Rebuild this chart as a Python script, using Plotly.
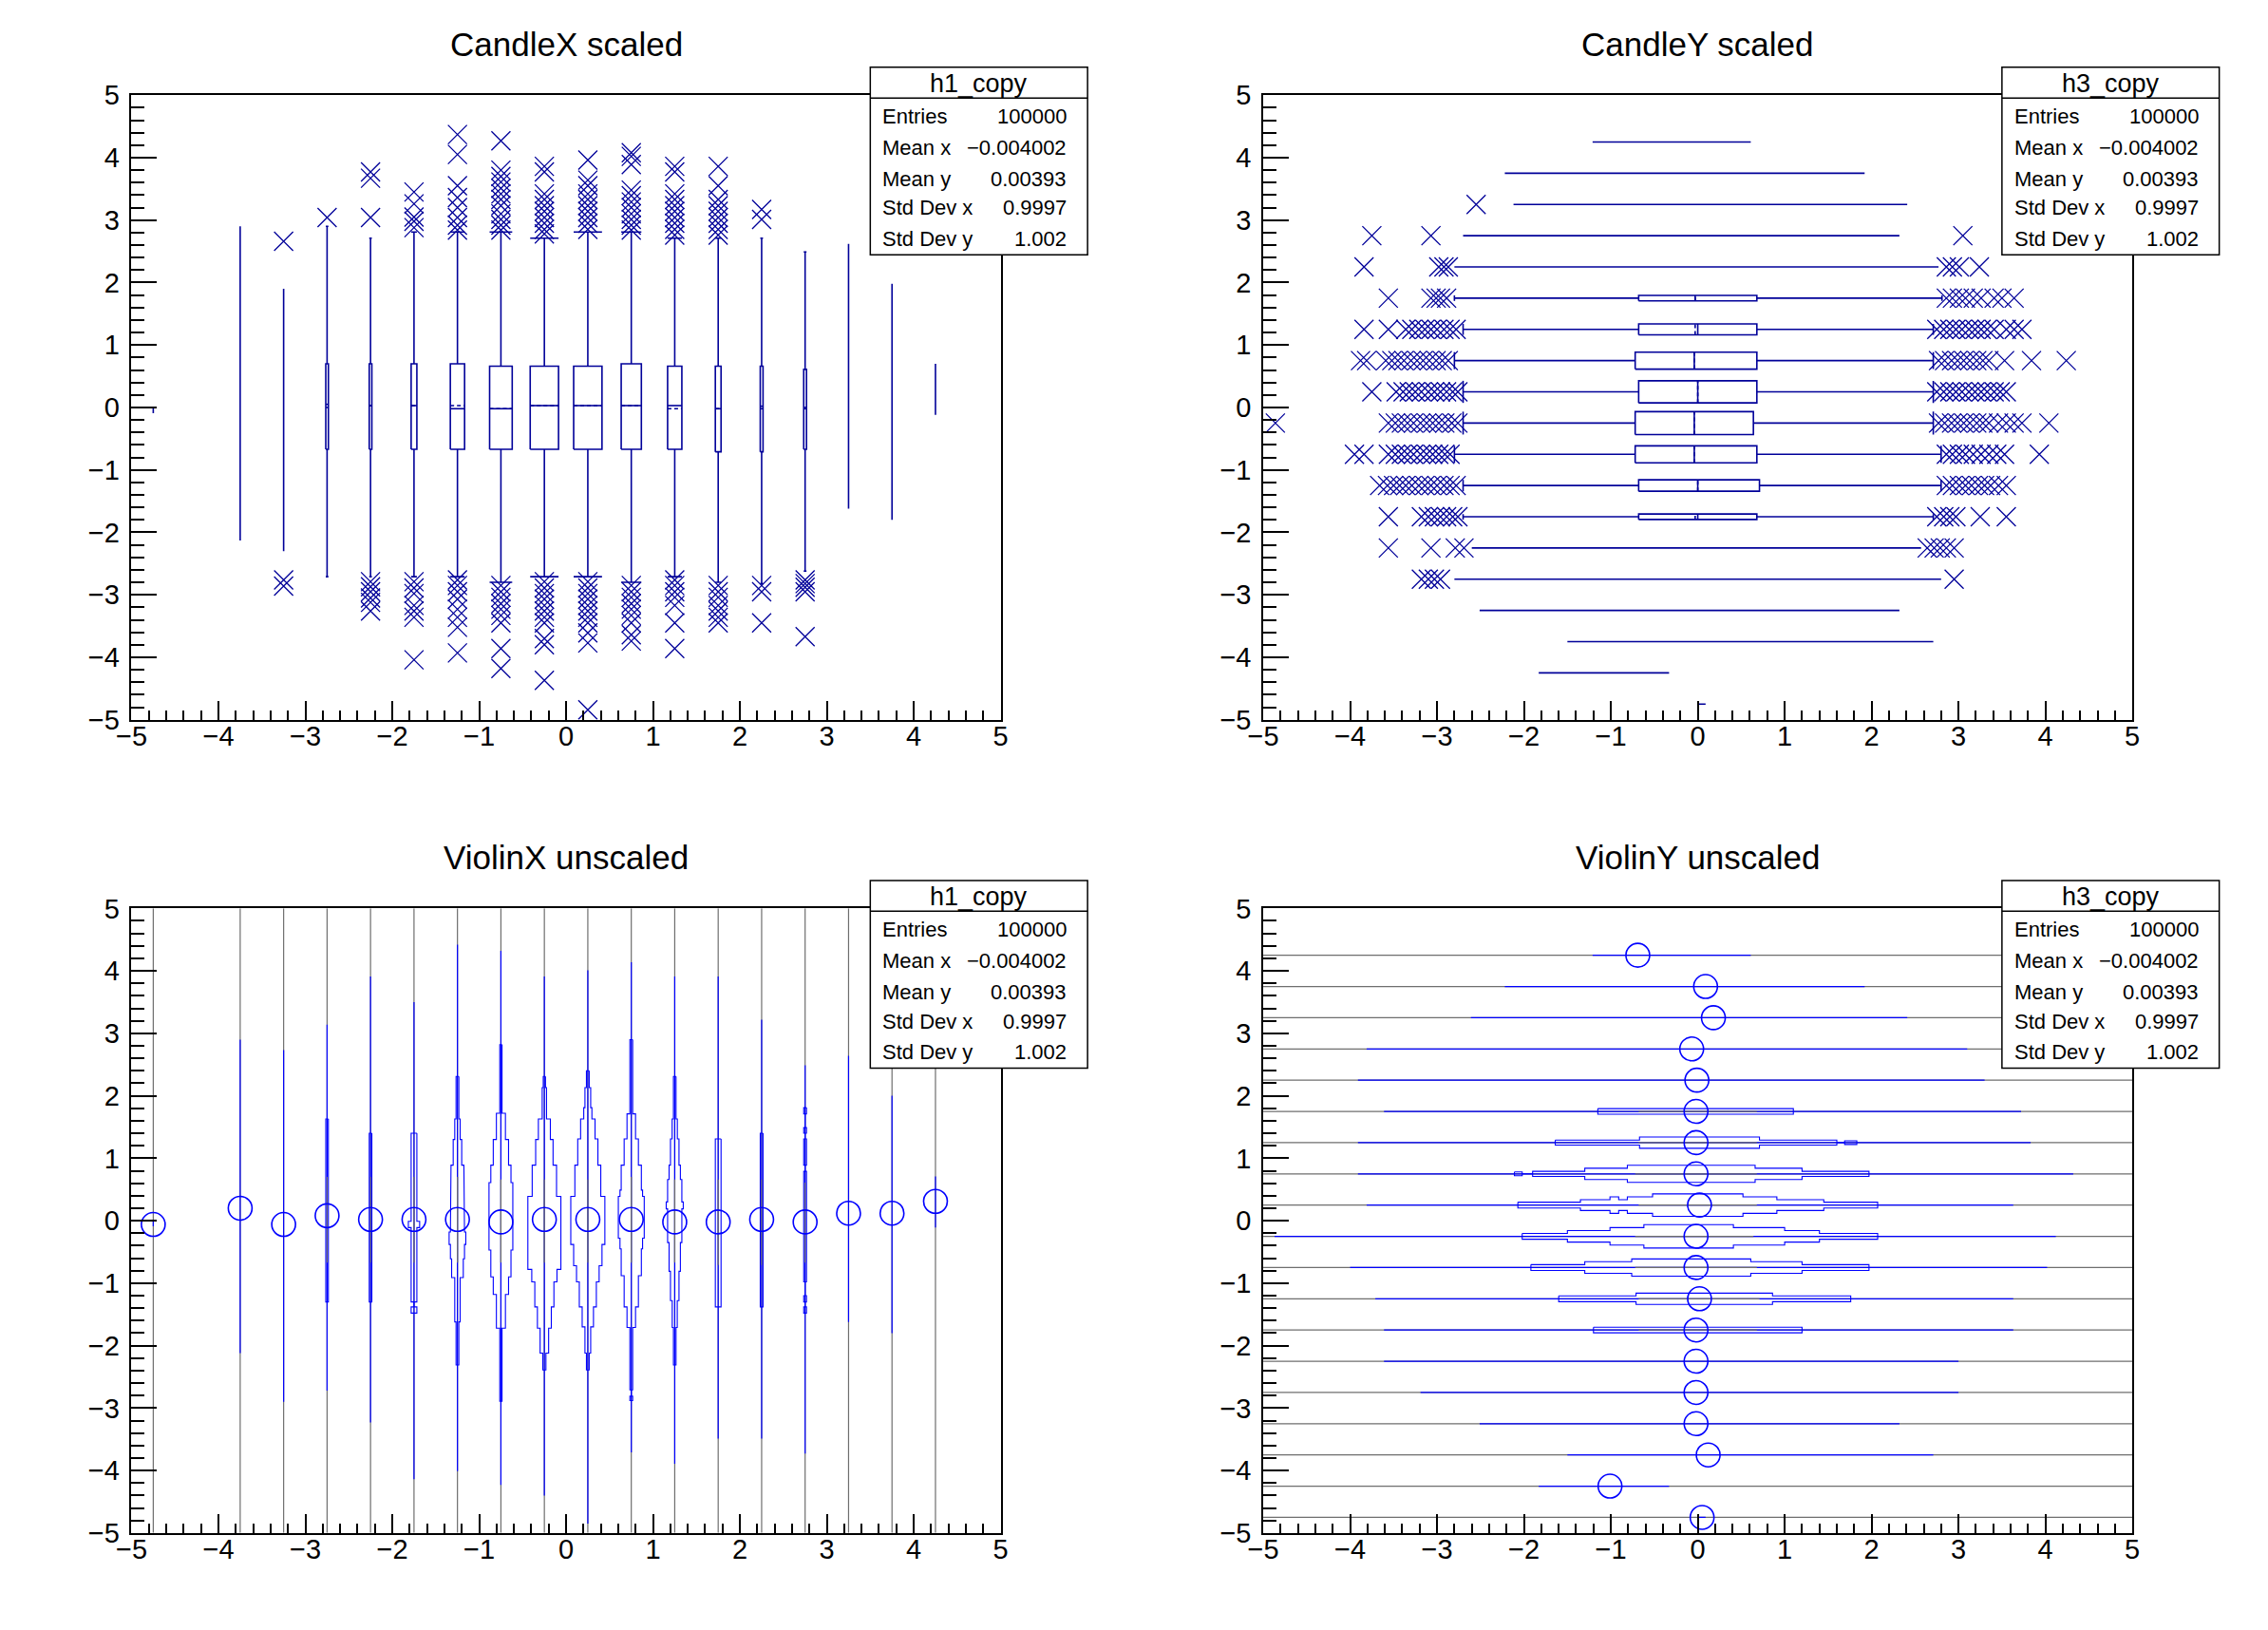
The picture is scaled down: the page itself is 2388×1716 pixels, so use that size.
import plotly.graph_objects as go

# ===================== DATA =====================
# ---- Panel 1: CandleX scaled (h1: x-slices, values along y) ----
cx_bins = [-4.75, -3.75, -3.25, -2.75, -2.25, -1.75, -1.25, -0.75, -0.25,
           0.25, 0.75, 1.25, 1.75, 2.25, 2.75, 3.25, 3.75, 4.25]
cx_box_hw = [0, 0, 0, 0.015, 0.015, 0.033, 0.082, 0.130, 0.163,
             0.163, 0.116, 0.082, 0.033, 0.016, 0.016, 0, 0, 0]
cx_q1 = [None, None, None, -0.67, -0.67, -0.67, -0.67, -0.67, -0.67,
         -0.67, -0.67, -0.67, -0.71, -0.71, -0.67, None, None, None]
cx_q3 = [None, None, None, 0.70, 0.70, 0.70, 0.70, 0.66, 0.66,
         0.66, 0.70, 0.66, 0.66, 0.66, 0.61, None, None, None]
cx_median = [None, None, None, 0.00, 0.03, 0.03, -0.02, -0.02, 0.03,
             0.03, 0.03, 0.03, -0.02, -0.02, -0.02, None, None, None]
cx_mean = [None, None, None, 0.05, 0.03, 0.03, 0.03, -0.02, 0.03,
           0.03, 0.03, -0.02, -0.02, 0.02, 0.00, None, None, None]
cx_whisker_lo = [-0.09, -2.13, -2.30, -2.71, -2.71, -2.71, -2.71, -2.80, -2.71,
                 -2.71, -2.80, -2.71, -2.80, -2.82, -2.62, -1.62, -1.80, -0.12]
cx_whisker_hi = [0.00, 2.90, 1.90, 2.90, 2.71, 2.81, 2.81, 2.81, 2.71,
                 2.81, 2.81, 2.71, 2.71, 2.71, 2.49, 2.62, 1.98, 0.70]
cx_outliers = [
    [],
    [],
    [2.66, -2.76, -2.86],
    [3.04],
    [3.77, 3.67, 3.04, -2.79, -2.87, -2.95, -3.05, -3.12, -3.26],
    [3.45, 3.26, 3.05, 2.98, 2.88, -2.79, -2.89, -2.98, -3.17, -3.26, -3.36, -4.04],
    [4.37, 4.05, 3.55, 3.36, 3.20, 3.04, 2.92, 2.84, -2.76, -2.85, -2.95, -3.07,
     -3.23, -3.36, -3.52, -3.93],
    [4.27, 3.80, 3.70, 3.61, 3.51, 3.42, 3.33, 3.23, 3.10, 3.01, 2.92, 2.84,
     -2.85, -2.95, -3.04, -3.14, -3.23, -3.33, -3.45, -3.86, -4.18],
    [3.86, 3.77, 3.42, 3.33, 3.23, 3.14, 3.04, 2.95, 2.85, 2.78, -2.79, -2.89,
     -2.98, -3.07, -3.17, -3.26, -3.36, -3.45, -3.70, -3.80, -4.37],
    [3.96, 3.64, 3.55, 3.42, 3.33, 3.23, 3.14, 3.04, 2.95, 2.85, -2.79, -2.89,
     -2.98, -3.07, -3.17, -3.26, -3.36, -3.45, -3.61, -3.77, -4.84],
    [4.08, 4.02, 3.89, 3.48, 3.39, 3.29, 3.20, 3.10, 3.01, 2.92, 2.84, -2.85,
     -2.95, -3.04, -3.14, -3.23, -3.33, -3.45, -3.64, -3.74],
    [3.86, 3.77, 3.42, 3.33, 3.23, 3.14, 3.04, 2.95, 2.85, 2.76, -2.76, -2.85,
     -2.95, -3.04, -3.17, -3.45, -3.86],
    [3.86, 3.55, 3.33, 3.23, 3.14, 3.04, 2.95, 2.85, 2.76, -2.85, -2.95, -3.04,
     -3.17, -3.26, -3.36, -3.45],
    [3.17, 3.01, -2.85, -2.95, -3.45],
    [-2.76, -2.82, -2.88, -2.95, -3.67],
    [],
    [],
    [],
]

# ---- Panel 2: CandleY scaled (h3: y-slices, values along x) ----
cy_bins = [4.25, 3.75, 3.25, 2.75, 2.25, 1.75, 1.25, 0.75, 0.25, -0.25,
           -0.75, -1.25, -1.75, -2.25, -2.75, -3.25, -3.75, -4.25, -4.75]
cy_box_hh = [0, 0, 0, 0, 0, 0.044, 0.088, 0.136, 0.177, 0.183,
             0.136, 0.091, 0.044, 0, 0, 0, 0, 0, 0]
cy_q1 = [None, None, None, None, None, -0.68, -0.68, -0.72, -0.68, -0.72,
         -0.72, -0.68, -0.68, None, None, None, None, None, None]
cy_q3 = [None, None, None, None, None, 0.68, 0.68, 0.68, 0.68, 0.64,
         0.68, 0.71, 0.68, None, None, None, None, None, None]
cy_median = [None, None, None, None, None, -0.03, 0.00, -0.04, 0.00, -0.04,
             -0.04, 0.00, 0.00, None, None, None, None, None, None]
cy_mean = [None, None, None, None, None, -0.03, -0.03, -0.04, 0.00, -0.04,
           -0.04, 0.00, -0.03, None, None, None, None, None, None]
cy_whisker_lo = [-1.21, -2.22, -2.12, -2.70, -2.80, -2.80, -2.70, -2.80, -2.70, -2.70,
                 -2.80, -2.70, -2.70, -2.60, -2.80, -2.51, -1.50, -1.83, 0.00]
cy_whisker_hi = [0.61, 1.92, 2.41, 2.32, 2.77, 2.81, 2.71, 2.71, 2.71, 2.71,
                 2.80, 2.80, 2.71, 2.57, 2.80, 2.32, 2.71, -0.33, 0.09]
cy_outliers = [
    [],
    [],
    [-2.55],
    [-3.75, -3.07, 3.05],
    [-3.84, -2.98, -2.92, -2.87, 2.86, 2.93, 3.01, 3.24],
    [-3.56, -3.07, -3.01, -2.96, -2.89, 2.86, 2.93, 3.01, 3.08, 3.17, 3.26, 3.41,
     3.50, 3.64],
    [-3.84, -3.56, -3.36, -3.29, -3.21, -3.14, -3.07, -3.00, -2.92, -2.85, -2.78,
     2.75, 2.83, 2.90, 2.97, 3.04, 3.12, 3.19, 3.26, 3.33, 3.41, 3.55, 3.64, 3.73],
    [-3.88, -3.81, -3.59, -3.52, -3.45, -3.38, -3.30, -3.23, -3.16, -3.09, -3.01,
     -2.94, -2.87, 2.77, 2.84, 2.92, 2.99, 3.06, 3.13, 3.21, 3.28, 3.35, 3.53,
     3.84, 4.24],
    [-3.75, -3.47, -3.39, -3.32, -3.25, -3.18, -3.10, -3.03, -2.96, -2.89, -2.82,
     -2.76, 2.75, 2.83, 2.90, 2.97, 3.04, 3.12, 3.19, 3.26, 3.33, 3.41, 3.48, 3.55],
    [-4.86, -3.56, -3.48, -3.41, -3.34, -3.27, -3.19, -3.12, -3.05, -2.98, -2.91,
     -2.83, -2.76, 2.77, 2.84, 2.92, 2.99, 3.06, 3.13, 3.21, 3.28, 3.35, 3.46,
     3.55, 3.64, 3.73, 4.04],
    [-3.95, -3.84, -3.56, -3.48, -3.41, -3.34, -3.27, -3.19, -3.12, -3.05, -2.98,
     -2.91, -2.85, 2.86, 2.93, 3.01, 3.08, 3.17, 3.26, 3.35, 3.44, 3.53, 3.93],
    [-3.66, -3.57, -3.50, -3.43, -3.36, -3.29, -3.21, -3.14, -3.07, -3.00, -2.92,
     -2.85, -2.78, 2.86, 2.93, 3.01, 3.08, 3.15, 3.23, 3.30, 3.37, 3.46, 3.55],
    [-3.56, -3.18, -3.10, -3.03, -2.96, -2.89, -2.82, -2.76, 2.75, 2.83, 2.90,
     2.97, 3.25, 3.55],
    [-3.56, -3.07, -2.79, -2.69, 2.64, 2.72, 2.79, 2.86, 2.95],
    [-3.18, -3.10, -3.03, -2.96, 2.95],
    [],
    [],
    [],
    [],
]

# ---- Panel 3: ViolinX unscaled (h1) ----
vx_bins = cx_bins
vx_range_lo = [-0.09, -2.12, -2.90, -2.72, -3.23, -4.14, -4.01, -4.23, -4.40,
               -4.85, -3.71, -3.89, -3.49, -3.49, -3.73, -1.62, -1.80, -0.11]
vx_range_hi = [0.00, 2.90, 2.73, 3.14, 3.91, 3.50, 4.42, 4.32, 3.91,
               4.01, 4.14, 3.91, 3.91, 3.22, 2.49, 2.64, 2.00, 0.71]
vx_mean = [-0.06, 0.20, -0.06, 0.08, 0.02, 0.02, 0.02, -0.02, 0.02,
           0.02, 0.02, -0.02, -0.02, 0.02, -0.02, 0.12, 0.12, 0.31]
vx_step_edges = [
    [], [], [],
    [1.63, 1.40, 1.12, -1.30],
    [1.40, 1.23, 1.12, -1.30],
    [1.40, -0.01, -0.11, -1.30, -1.38, -1.48],
    [2.31, 1.63, 1.30, 0.89, 0.63, -0.18, -0.38, -0.61, -0.91, -1.62, -2.31],
    [2.82, 1.72, 1.30, 0.89, 0.61, -0.47, -0.90, -1.18, -1.72, -2.89],
    [2.31, 2.13, 1.63, 1.30, 0.89, 0.39, -0.78, -0.98, -1.38, -1.72, -2.12, -2.39],
    [2.40, 2.13, 1.81, 1.63, 1.31, 0.89, 0.39, -0.38, -0.72, -0.98, -1.38, -1.70,
     -2.12, -2.39],
    [2.90, 1.71, 1.31, 0.89, 0.49, 0.39, -0.28, -0.45, -0.88, -1.38, -1.71, -2.71,
     -2.81, -2.88],
    [2.31, 1.63, 1.31, 0.89, 0.66, 0.30, 0.19, -0.35, -0.81, -1.28, -1.71, -2.31],
    [1.31, -1.38],
    [1.40, -1.38],
    [1.81, 1.71, 1.49, 1.40, 1.31, 0.89, 0.79, -0.98, -1.20, -1.30, -1.38, -1.48],
    [], [], [],
]
vx_step_halfwidth = [
    [], [], [],
    [0.015, 0.008, 0.015],
    [0.015, 0.008, 0.015],
    [0.033, 0.065, 0.033, 0, 0.033],
    [0.016, 0.031, 0.049, 0.074, 0.081, 0.096, 0.081, 0.067, 0.031, 0.016],
    [0.013, 0.052, 0.088, 0.116, 0.137, 0.116, 0.088, 0.052, 0.013],
    [0.013, 0.025, 0.069, 0.100, 0.140, 0.190, 0.145, 0.110, 0.080, 0.049, 0.018],
    [0.016, 0.033, 0.047, 0.083, 0.116, 0.149, 0.196, 0.163, 0.130, 0.098, 0.065,
     0.033, 0.016],
    [0.016, 0.049, 0.082, 0.116, 0.130, 0.149, 0.130, 0.116, 0.082, 0.049, 0.016,
     0, 0.016],
    [0.015, 0.030, 0.049, 0.065, 0.082, 0.098, 0.082, 0.065, 0.049, 0.029, 0.015],
    [0.033],
    [0.016],
    [0.016, 0, 0.016, 0, 0.016, 0, 0.016, 0, 0.016, 0, 0.016],
    [], [], [],
]

# ---- Panel 4: ViolinY unscaled (h3) ----
vy_bins = cy_bins
vy_range_lo = [-1.21, -2.22, -2.61, -3.81, -3.91, -3.61, -3.91, -3.91, -3.81, -4.87,
               -4.00, -3.71, -3.61, -3.61, -3.19, -2.51, -1.50, -1.83, 0.00]
vy_range_hi = [0.61, 1.92, 2.41, 3.10, 3.30, 3.72, 3.83, 4.32, 3.63, 4.12,
               4.02, 3.63, 3.63, 3.00, 3.00, 2.32, 2.71, -0.33, 0.09]
vy_mean = [-0.69, 0.09, 0.18, -0.07, -0.01, -0.02, -0.02, -0.02, 0.02, -0.02,
           -0.02, 0.02, -0.02, -0.02, -0.02, -0.02, 0.12, -1.01, 0.05]
vy_step_edges = [
    [], [], [], [], [],
    [-1.15, 1.10],
    [-1.64, -0.67, 0.71, 1.60, 1.69, 1.83],
    [-2.11, -2.02, -1.90, -1.30, -0.81, 0.66, 1.20, 1.97],
    [-2.07, -1.35, -1.01, -0.91, -0.81, -0.52, 0.52, 0.91, 1.45, 2.07],
    [-2.02, -1.50, -1.01, -0.62, 0.41, 0.52, 1.00, 1.40, 2.07],
    [-1.92, -1.30, -0.76, 0.61, 1.20, 1.97],
    [-1.60, -0.71, 0.86, 1.76],
    [-1.20, 1.20],
    [], [], [], [], [], [],
]
vy_step_halfheight = [
    [], [], [], [], [],
    [0.045],
    [0.040, 0.090, 0.040, 0, 0.030],
    [0.030, 0, 0.040, 0.090, 0.137, 0.090, 0.040],
    [0.047, 0.087, 0.133, 0.087, 0.133, 0.180, 0.133, 0.087, 0.047],
    [0.047, 0.093, 0.140, 0.187, 0.140, 0.140, 0.093, 0.047],
    [0.047, 0.093, 0.137, 0.093, 0.047],
    [0.047, 0.090, 0.047],
    [0.045],
    [], [], [], [], [], [],
]

titles = ["CandleX scaled", "CandleY scaled", "ViolinX unscaled", "ViolinY unscaled"]
stat_names = ["h1_copy", "h3_copy", "h1_copy", "h3_copy"]
stat_labels = ["Entries", "Mean x", "Mean y", "Std Dev x", "Std Dev y"]
stat_values = ["100000", "\u22120.004002", "0.00393", "0.9997", "1.002"]

# ===================== STYLE / LAYOUT =====================
W, H = 2388, 1716
NAVY = "rgb(0,0,153)"
BLUE = "rgb(0,0,255)"
GRAY = "rgb(110,110,110)"
FONT = "Liberation Sans, Arial, Helvetica, sans-serif"
PADS = [(0.01, 0.01), (0.51, 0.01), (0.01, 0.51), (0.51, 0.51)]  # left, top (fractions)
PW = 0.48
MARGIN = 0.1

# calibration of the rendered page against the target picture (pixel mapping)
KX, OX = 1.0085, -16.9
KY, OY = 1.0168, -15.4


def px(xr):
    return (KX * xr + OX) / W


def py(yr):
    return 1 - (KY * yr + OY) / H


fig = go.Figure()


def axes_of(i):
    return ("x" if i == 0 else "x%d" % (i + 1), "y" if i == 0 else "y%d" % (i + 1))


def add_lines(i, xs, ys, color, width, dash=None):
    xa, ya = axes_of(i)
    fig.add_trace(go.Scatter(x=xs, y=ys, mode="lines", xaxis=xa, yaxis=ya,
                             line=dict(color=color, width=width, dash=dash),
                             hoverinfo="skip", showlegend=False))


def add_markers(i, xs, ys, symbol, size, color, lw):
    xa, ya = axes_of(i)
    fig.add_trace(go.Scatter(x=xs, y=ys, mode="markers", xaxis=xa, yaxis=ya,
                             marker=dict(symbol=symbol, size=size, color=color,
                                         line=dict(color=color, width=lw)),
                             hoverinfo="skip", showlegend=False))


def candle_parts(pos, hw, q1, q3, med, mean, lo, hi):
    parts = {k: ([], []) for k in ("box", "med", "mean", "whisk", "anchor")}
    for c, w, a, b, m, mu, l, h in zip(pos, hw, q1, q3, med, mean, lo, hi):
        if a is None:
            parts["whisk"][0].extend([c, c, None])
            parts["whisk"][1].extend([l, h, None])
            continue
        parts["box"][0].extend([c - w, c + w, c + w, c - w, c - w, None])
        parts["box"][1].extend([a, a, b, b, a, None])
        parts["med"][0].extend([c - w, c + w, None])
        parts["med"][1].extend([m, m, None])
        parts["mean"][0].extend([c - w, c + w, None])
        parts["mean"][1].extend([mu, mu, None])
        parts["whisk"][0].extend([c, c, None, c, c, None])
        parts["whisk"][1].extend([b, h, None, a, l, None])
        parts["anchor"][0].extend([c - w, c + w, None, c - w, c + w, None])
        parts["anchor"][1].extend([h, h, None, l, l, None])
    return parts


def violin_outline(pos, edges_list, hw_list):
    pa, pv = [], []
    for c, edges, hws in zip(pos, edges_list, hw_list):
        if not hws:
            continue
        for k, w in enumerate(hws):
            pa.extend([c + w, c + w]); pv.extend([edges[k], edges[k + 1]])
        for k in reversed(range(len(hws))):
            w = hws[k]
            pa.extend([c - w, c - w]); pv.extend([edges[k + 1], edges[k]])
        pa.extend([c + hws[0], None]); pv.extend([edges[0], None])
    return pa, pv


def draw_candles(i, pos, hw, q1, q3, med, mean, lo, hi, outliers, vertical):
    p = candle_parts(pos, hw, q1, q3, med, mean, lo, hi)

    def put(key, color, width, dash=None):
        a, v = p[key]
        if vertical:
            add_lines(i, a, v, color, width, dash)
        else:
            add_lines(i, v, a, color, width, dash)
    put("whisk", NAVY, 1.6)
    put("anchor", NAVY, 1.6)
    put("box", NAVY, 1.6)
    put("med", NAVY, 1.6)
    put("mean", NAVY, 1.6, "4px,3px")
    oa, ov = [], []
    for c, outs in zip(pos, outliers):
        for o in outs:
            oa.append(c); ov.append(o)
    if vertical:
        add_markers(i, oa, ov, "x-thin", 20, NAVY, 1.3)
    else:
        add_markers(i, ov, oa, "x-thin", 20, NAVY, 1.3)


def draw_violins(i, pos, rlo, rhi, q1, q3, mean, edges, hws, vertical):
    ga, gv = [], []
    for c in pos:
        ga.extend([c, c, None]); gv.extend([-5, 5, None])
    ba, bv = [], []
    for c, l, h in zip(pos, rlo, rhi):
        ba.extend([c, c, None]); bv.extend([l, h, None])
    ia, iv = [], []
    for c, a, b in zip(pos, q1, q3):
        if a is not None:
            ia.extend([c, c, None]); iv.extend([a, b, None])
    oa, ov = violin_outline(pos, edges, hws)
    for (a, v, col, wdt) in ((ga, gv, GRAY, 1.2), (ba, bv, BLUE, 1.2),
                             (ia, iv, GRAY, 1.2), (oa, ov, BLUE, 1.1)):
        if vertical:
            add_lines(i, a, v, col, wdt)
        else:
            add_lines(i, v, a, col, wdt)
    if vertical:
        add_markers(i, list(pos), mean, "circle-open", 25, BLUE, 1.6)
    else:
        add_markers(i, mean, list(pos), "circle-open", 25, BLUE, 1.6)


draw_candles(0, cx_bins, cx_box_hw, cx_q1, cx_q3, cx_median, cx_mean,
             cx_whisker_lo, cx_whisker_hi, cx_outliers, True)
draw_candles(1, cy_bins, cy_box_hh, cy_q1, cy_q3, cy_median, cy_mean,
             cy_whisker_lo, cy_whisker_hi, cy_outliers, False)
draw_violins(2, vx_bins, vx_range_lo, vx_range_hi, cx_q1, cx_q3, vx_mean,
             vx_step_edges, vx_step_halfwidth, True)
draw_violins(3, vy_bins, vy_range_lo, vy_range_hi, cy_q1, cy_q3, vy_mean,
             vy_step_edges, vy_step_halfheight, False)

layout = dict(width=W, height=H, margin=dict(l=0, r=0, t=0, b=0),
              paper_bgcolor="white", plot_bgcolor="white", showlegend=False,
              font=dict(family=FONT, color="black"))
shapes, annotations = [], []

for i, (lft, top) in enumerate(PADS):
    xa, ya = axes_of(i)
    xkey = "xaxis" if i == 0 else "xaxis%d" % (i + 1)
    ykey = "yaxis" if i == 0 else "yaxis%d" % (i + 1)
    pl, pt, pw, ph = lft * W, top * H, PW * W, PW * H   # pad in target pixels
    fx0, fx1 = pl + MARGIN * pw, pl + (1 - MARGIN) * pw
    fy0, fy1 = pt + MARGIN * ph, pt + (1 - MARGIN) * ph
    common = dict(range=[-5, 5], showline=True, mirror=True, linecolor="black",
                  linewidth=1.5, ticks="inside", tickmode="linear", tick0=0, dtick=1,
                  tickwidth=1.5, tickcolor="black", showgrid=False, zeroline=False,
                  fixedrange=True, tickfont=dict(size=29, family=FONT, color="black"))
    layout[xkey] = dict(common, domain=[px(fx0), px(fx1)], anchor=ya, ticklen=20,
                        ticklabelstandoff=-9,
                        minor=dict(ticks="inside", ticklen=10, tickwidth=1.5,
                                   tickcolor="black", dtick=0.2, tick0=0, showgrid=False))
    layout[ykey] = dict(common, domain=[py(fy1), py(fy0)], anchor=xa, ticklen=27,
                        ticklabelstandoff=5,
                        minor=dict(ticks="inside", ticklen=14, tickwidth=1.5,
                                   tickcolor="black", dtick=0.2, tick0=0, showgrid=False))

    # title
    annotations.append(dict(text=titles[i], xref="paper", yref="paper",
                            x=px(pl + 0.5 * pw), y=py(pt + 0.0343 * ph),
                            xanchor="center", yanchor="middle", showarrow=False,
                            font=dict(size=35, family=FONT, color="black")))
    # stats box
    bx0, bx1 = pl + 0.78 * pw, pl + 0.98 * pw
    by_top, by_sep, by_bot = pt + 0.0642 * ph, pt + 0.1036 * ph, pt + 0.3045 * ph
    shapes.append(dict(type="rect", xref="paper", yref="paper", x0=px(bx0), x1=px(bx1),
                       y0=py(by_bot), y1=py(by_top), fillcolor="white",
                       line=dict(color="black", width=1.5), layer="above"))
    shapes.append(dict(type="line", xref="paper", yref="paper", x0=px(bx0), x1=px(bx1),
                       y0=py(by_sep), y1=py(by_sep), line=dict(color="black", width=1.5),
                       layer="above"))
    annotations.append(dict(text=stat_names[i], xref="paper", yref="paper",
                            x=px((bx0 + bx1) / 2), y=py(pt + 0.0848 * ph),
                            xanchor="center", yanchor="middle", showarrow=False,
                            font=dict(size=27, family=FONT, color="black")))
    row_y = [0.1273, 0.1676, 0.2077, 0.2444, 0.2845]
    for lab, val, ry in zip(stat_labels, stat_values, row_y):
        annotations.append(dict(text=lab, xref="paper", yref="paper",
                                x=px(bx0 + 11), y=py(pt + ry * ph),
                                xanchor="left", yanchor="middle", showarrow=False,
                                font=dict(size=22, family=FONT, color="black")))
        annotations.append(dict(text=val, xref="paper", yref="paper",
                                x=px(bx1 - 20), y=py(pt + ry * ph),
                                xanchor="right", yanchor="middle", showarrow=False,
                                font=dict(size=22, family=FONT, color="black")))

layout["shapes"] = shapes
layout["annotations"] = annotations
fig.update_layout(**layout)
fig.write_html("out.html", config={"displayModeBar": False},
               post_script="document.body.style.margin='0px';"
                           "document.body.style.overflow='hidden';")
